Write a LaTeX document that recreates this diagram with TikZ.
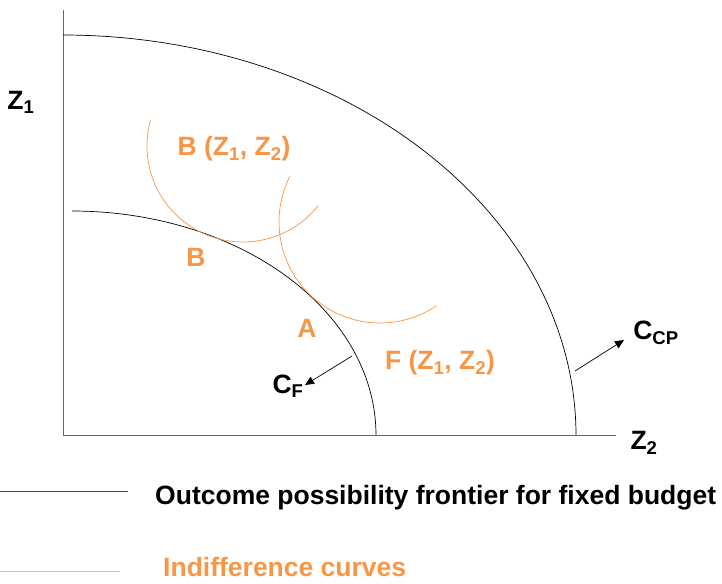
\documentclass[tikz,border=0pt]{standalone}
\usepackage{fontspec}
\setmainfont{Liberation Sans}
\usetikzlibrary{arrows.meta}
\definecolor{orng}{RGB}{247,150,70}
\begin{document}
\begin{tikzpicture}[x=1pt,y=-1pt,
  axis/.style={draw=black!60,line width=0.9pt},
  frontier/.style={draw=black,line width=0.7pt},
  indiff/.style={draw=orng,line width=0.7pt},
  lbl/.style={font=\fontsize{26.5}{28}\selectfont\bfseries,inner sep=0pt},
  olbl/.style={lbl,text=orng},
  arr/.style={draw=black,line width=0.7pt,-{Triangle[length=9pt,width=8pt]}}]
\useasboundingbox (0,0) rectangle (722,583);
% axes
\coordinate (o) at (63,435);
\coordinate (ytop) at (63,10);
\coordinate (xend) at (616,435);
\draw[axis] (ytop) -- (o) -- (xend);
% frontiers
\draw[frontier] plot[domain=-90:0,samples=80,smooth] ({63+513*cos(\x)},{435+400*sin(\x)});
\draw[frontier] plot[domain=-90:0,samples=80,smooth] ({72+304*cos(\x)},{435+224*sin(\x)});
% indifference curves
\draw[indiff] plot[domain=38.4:195.5,samples=80,smooth] ({243+96*cos(\x)},{146+96*sin(\x)});
\draw[indiff] plot[domain=56:206.8,samples=80,smooth] ({380+101*cos(\x)},{222+101*sin(\x)});
% labels
\node[lbl] (z1) at (21,102) {Z\textsubscript{1}};
\node[lbl] (z2) at (644,443) {Z\textsubscript{2}};
\node[olbl] (bz) at (234,149) {B (Z\textsubscript{1}, Z\textsubscript{2})};
\node[olbl] (b) at (196,257) {B};
\node[olbl] (a) at (307,328) {A};
\node[olbl] (fz) at (440,363) {F (Z\textsubscript{1}, Z\textsubscript{2})};
\node[lbl] (cf) at (288,386) {C\textsubscript{F}};
\node[lbl] (ccp) at (656,333) {C\textsubscript{CP}};
% arrows
\coordinate (cfs) at (352,356);
\coordinate (cfe) at (305,385);
\draw[arr] (cfs) -- (cfe);
\coordinate (ccs) at (575,371);
\coordinate (cce) at (624,340);
\draw[arr] (ccs) -- (cce);
% legend
\coordinate (l1a) at (0,491);
\coordinate (l1b) at (128,491);
\draw[draw=black!70,line width=0.8pt] (l1a) -- (l1b);
\node[lbl,anchor=base west] (leg1) at (155,504) {Outcome possibility frontier for fixed budget};
\coordinate (l2a) at (0,571);
\coordinate (l2b) at (120,571);
\draw[draw=orng!70,line width=0.8pt] (l2a) -- (l2b);
\node[olbl,anchor=base west] (leg2) at (163,576) {Indifference curves};
\end{tikzpicture}
\end{document}
